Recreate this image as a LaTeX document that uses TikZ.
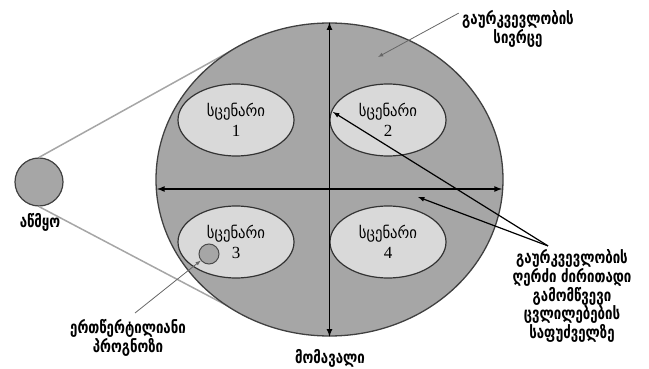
\documentclass[tikz,border=0pt]{standalone}
\usepackage{fontspec}
\setmainfont{DejaVu Sans}
\newfontfamily\numfont{Liberation Serif}
\newfontfamily\geolbl[FakeStretch=0.78]{DejaVu Sans}
\newfontfamily\geoscen[FakeStretch=0.92]{DejaVu Sans}
\usetikzlibrary{shapes.geometric}
\tikzset{
  scen/.style={draw=black!80, ellipse, fill=black!15, line width=1.2pt, minimum width=116pt, minimum height=72pt, inner sep=0pt, align=center, font=\geoscen\fontsize{16}{20}\selectfont},
  lbl/.style={align=center, font=\geolbl\bfseries\fontsize{17}{18}\selectfont},
  cone/.style={draw=black!35, line width=1.5pt},
  ptr/.style={->, draw=black!60, line width=0.8pt},
  axis/.style={<->, line width=1.6pt},
}
\newcommand{\scenno}[1]{{\numfont\fontsize{17}{18}\selectfont #1}}
\begin{document}
\begin{tikzpicture}[x=1pt, y=-1pt, >=latex]
\useasboundingbox (0,0) rectangle (649,369);
% present and cone
\node[draw=black!75, circle, fill=black!35, line width=1.2pt, minimum size=48pt, inner sep=0pt] (present) at (39,182) {};
\coordinate (ctop) at (238,47);
\coordinate (cbot) at (243,314);
\draw[cone] (present.north) -- (ctop);
\draw[cone] (present.south) -- (cbot);
\node[draw=black!75, ellipse, fill=black!35, line width=1.3pt, minimum width=347pt, minimum height=313pt, inner sep=0pt] (space) at (329.5,179.5) {};
% scenarios
\node[scen] (s1) at (236,120) {სცენარი\\\scenno{1}};
\node[scen] (s2) at (388,120) {სცენარი\\\scenno{2}};
\node[scen] (s3) at (236,242) {სცენარი\\\scenno{3}};
\node[scen] (s4) at (388,242) {სცენარი\\\scenno{4}};
% axes
\coordinate (axl) at (157,189);
\coordinate (axr) at (502,189);
\draw[axis] (axl) -- (axr);
\draw[axis] (space.north) -- (space.south);
% point forecast
\node[draw=black!70, circle, fill=black!35, line width=1pt, minimum size=20pt, inner sep=0pt] (point) at (209,254) {};
% labels
\node[lbl] (presentlabel) at (40,222) {აწმყო};
\node[lbl] (pointlabel) at (128,338) {ერთწერტილიანი\\პროგნოზი};
\node[lbl] (futurelabel) at (330,358) {მომავალი};
\node[lbl] (spacelabel) at (518,29) {გაურკვევლობის\\სივრცე};
\node[lbl] (axislabel) at (572,296) {გაურკვევლობის\\ღერძი ძირითადი\\გამომწვევი\\ცვლილებების\\საფუძველზე};
\coordinate (spacetip) at (378,57);
\coordinate (pointfrom) at (135,313);
\coordinate (axistip1) at (333,112);
\coordinate (axistip2) at (418,197);
\draw[ptr] (spacelabel.165) -- (spacetip);
\draw[ptr] (pointfrom) -- (point);
\draw[->, line width=1.2pt] ([xshift=-24pt]axislabel.north) -- (axistip1);
\draw[->, line width=1.2pt] ([xshift=-24pt]axislabel.north) -- (axistip2);
\end{tikzpicture}
\end{document}
